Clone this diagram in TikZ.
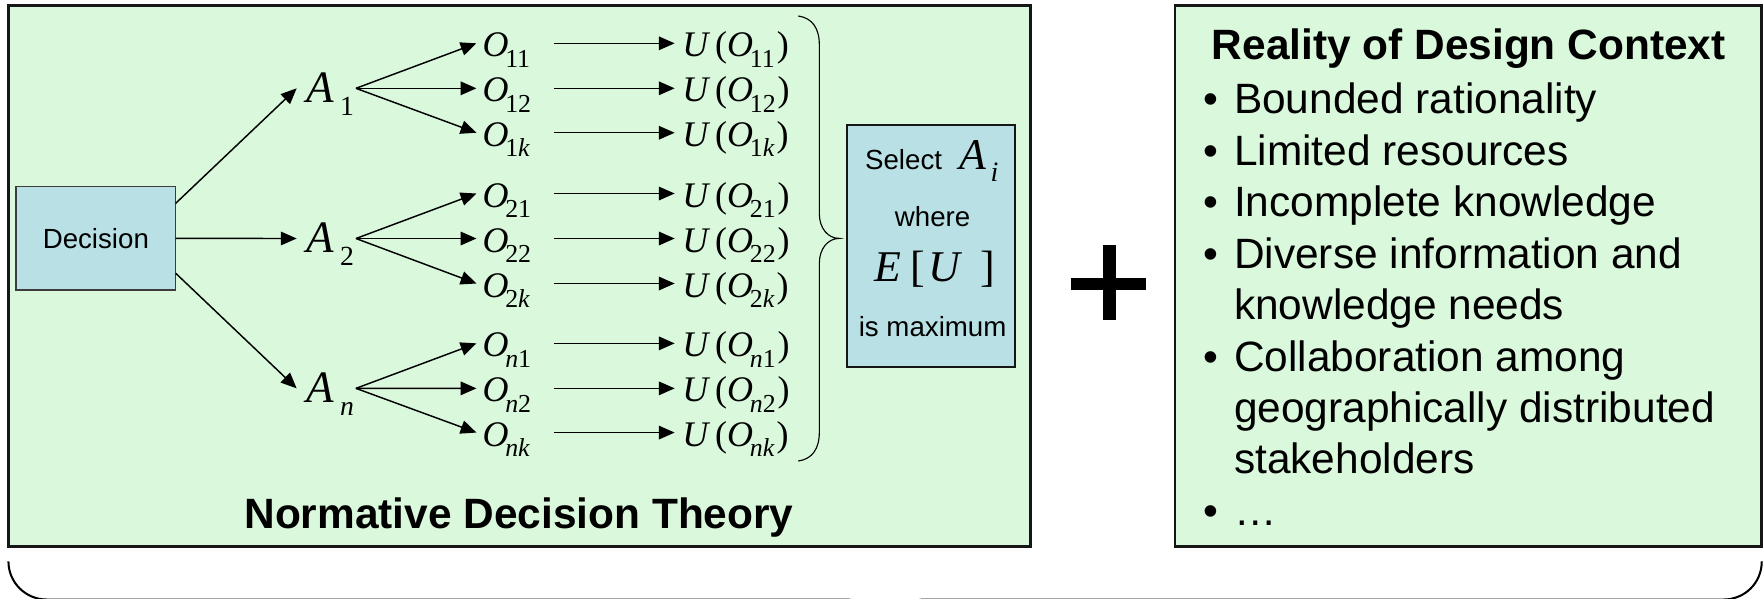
\documentclass[tikz,border=0pt]{standalone}
\usepackage{fontspec}
\setmainfont{Liberation Serif}
\newfontfamily\arial{Liberation Sans}
\usetikzlibrary{arrows.meta}
\definecolor{boxgreen}{RGB}{218,248,220}
\definecolor{boxblue}{RGB}{185,224,228}
\definecolor{edgecol}{RGB}{22,22,22}
\definecolor{thinedge}{RGB}{60,60,60}
\newcommand\Os[1]{\textit{O}\kern-1.5pt\raisebox{-4.6pt}{\fontsize{11.5}{11.5}\selectfont #1}}
\newcommand\Us[1]{\textit{U}\kern2.2pt(\Os{#1}\kern0.9pt)}
\newcommand\Asub[1]{\textit{A}\kern2.6pt\raisebox{-5.6pt}{\fontsize{12.3}{12.3}\selectfont #1}}
\newcommand\bul{\makebox[13.7pt][l]{•}}
\begin{document}
\begin{tikzpicture}[x=0.5pt,y=-0.5pt,
  txt/.style={inner sep=0pt, outer sep=0pt},
  arr/.style={-{Triangle[length=7pt,width=6pt]}, line width=0.65pt},
  big/.style={txt, font=\arial\fontsize{18.85}{22.85}\selectfont},
  bigbold/.style={txt, font=\arial\bfseries\fontsize{18.85}{22.85}\selectfont},
  small/.style={txt, font=\arial\fontsize{12.3}{14}\selectfont},
  onode/.style={txt, anchor=base west, font=\fontsize{16}{18}\selectfont},
  anode/.style={txt, anchor=base west, font=\fontsize{20}{22}\selectfont},
  mnode/.style={txt, anchor=base west, font=\fontsize{19.5}{22}\selectfont},
  panel/.style={draw=edgecol, line width=1.3pt, fill=boxgreen},
  bluebox/.style={fill=boxblue, outer sep=0pt, inner sep=0pt},
]
\useasboundingbox (0,0) rectangle (1568,532);
\clip (0,0) rectangle (1568,532);
\fill[white] (0,0) rectangle (1568,532);

% panels
\draw[panel] (7.5,5) rectangle (915.6,486);
\draw[panel] (1044.4,5) rectangle (1565.5,486);

% decision box
\node[bluebox, draw=thinedge, line width=0.5pt, minimum width=71pt, minimum height=45.9pt, font=\arial\fontsize{12.3}{14}\selectfont] (dec) at (85.2,211.9) {Decision};

% alternatives
\node[anode] (A1) at (272.5,91.3) {\Asub{1}};
\node[anode] (A2) at (272.5,224.8) {\Asub{2}};
\node[anode] (An) at (272.5,358) {\Asub{\textit{n}}};

\draw[arr] ([yshift=15.6pt]dec.east) -- ([xshift=-4.4pt,yshift=6.4pt]A1.base west);
\draw[arr] (dec.east) -- ([xshift=-4.4pt,yshift=6.4pt]A2.base west);
\draw[arr] ([yshift=-15.5pt]dec.east) -- ([xshift=-4.4pt,yshift=6.4pt]An.base west);

% outcomes and utilities
\foreach \n/\y/\s/\a in {11/38.5/11/1, 12/78.5/12/1, 1k/118/{1\textit{k}}/1,
                          21/172/21/2, 22/212/22/2, 2k/252/{2\textit{k}}/2,
                          n1/305.2/{\textit{n}1}/n, n2/345.2/{\textit{n}2}/n, nk/384.5/{\textit{nk}}/n} {
  \node[onode] (O\n) at (429,\y+12) {\Os{\s}};
  \node[onode] (U\n) at (606.5,\y+12) {\Us{\s}};
  \draw[arr] ([xshift=21.95pt,yshift=6.4pt]A\a.base west) -- ([xshift=-2.75pt,yshift=6pt]O\n.base west);
  \draw[arr] ([xshift=31.75pt,yshift=6pt]O\n.base west) -- ([xshift=-3.4pt,yshift=6pt]U\n.base west);
}

% curly brace
\draw[line width=0.5pt] (709.6,14.2) .. controls (722,16) and (728.3,25) .. (728.3,40)
  -- (728.3,190) .. controls (728.3,203) and (736,211.9) .. (746,211.9)
  .. controls (736,211.9) and (728.3,221) .. (728.3,234)
  -- (728.3,384) .. controls (728.3,399) and (722,408) .. (709.6,409.8);

% select box
\node[bluebox, draw=edgecol, line width=0.9pt, minimum width=74.8pt, minimum height=107.5pt] (sel) at (827.4,218.5) {};
\node[small, anchor=base west] (selt) at (769,151) {Select};
\node[mnode] (Ai) at (853,151) {\textit{A}\kern1.8pt\raisebox{-5pt}{\fontsize{12.5}{12.5}\selectfont\textit{i}}};
\node[small, anchor=base] (where) at (829,201.5) {where};
\node[mnode] (EU) at (777.5,250.4) {\textit{E}\kern4pt[\kern1.5pt\textit{U}\kern8pt]};
\node[small, anchor=base] (ismax) at (829,299.3) {is maximum};

% titles
\node[bigbold, anchor=base] (ndt) at (461.3,469.6) {Normative Decision Theory};
\node[bigbold, anchor=base] (rdc) at (1305.5,52.7) {Reality of Design Context};

% bullets
\node[big, anchor=base west] (b1) at (1069.6,101.3) {\bul Bounded rationality};
\node[big, anchor=base west] (b2) at (1069.6,147.0) {\bul Limited resources};
\node[big, anchor=base west] (b3) at (1069.6,192.7) {\bul Incomplete knowledge};
\node[big, anchor=base west] (b4) at (1069.6,238.4) {\bul Diverse information and};
\node[big, anchor=base west] (b4b) at (1097,284.1) {knowledge needs};
\node[big, anchor=base west] (b5) at (1069.6,329.8) {\bul Collaboration among};
\node[big, anchor=base west] (b5b) at (1097,375.5) {geographically distributed};
\node[big, anchor=base west] (b5c) at (1097,421.2) {stakeholders};
\node[big, anchor=base west] (b6) at (1069.6,466.9) {\bul …};

% plus sign
\draw[line width=5.4pt] (951.7,252.6) -- (1019,252.6);
\draw[line width=5.8pt] (985.8,217.8) -- (985.8,284.4);

% bottom brace
\draw[line width=0.9pt] (7.5,499) .. controls (7.5,518) and (23,532.9) .. (41.5,532.9)
  -- (751,532.9) .. controls (770,532.9) and (786.8,546) .. (786.8,566)
  .. controls (786.8,546) and (803.6,532.9) .. (822.6,532.9)
  -- (1532,532.9) .. controls (1551,532.9) and (1566,518) .. (1566,499);
\end{tikzpicture}
\end{document}
